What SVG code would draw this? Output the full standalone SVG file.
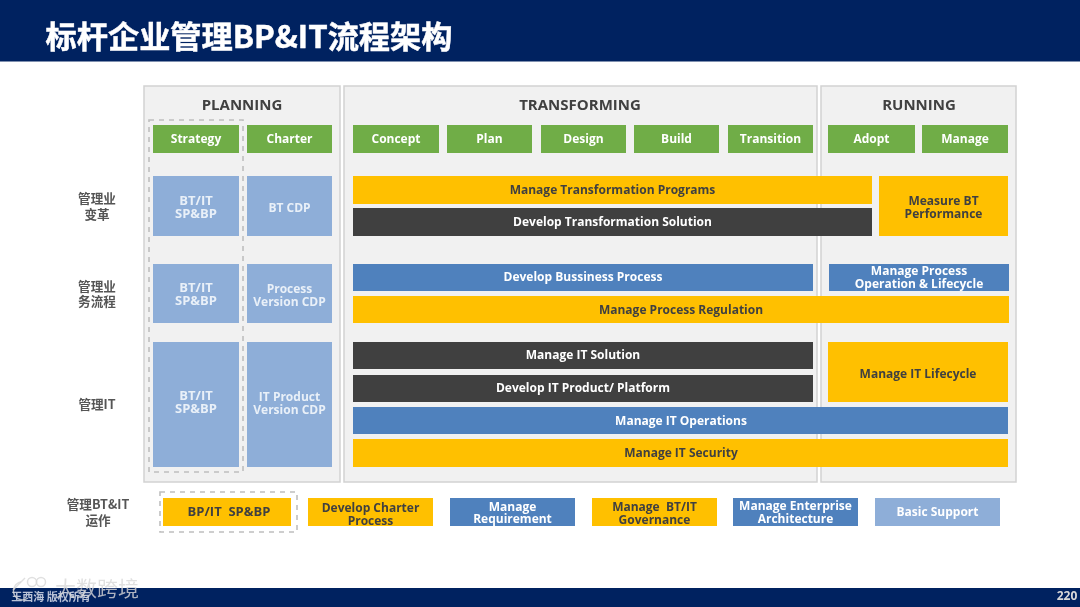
<svg xmlns="http://www.w3.org/2000/svg" width="1080" height="607" viewBox="0 0 1080 607">
<style>
text{font-family:"Open Sans","Noto Sans CJK SC",sans-serif;font-weight:700;text-anchor:middle;white-space:pre}
.panel{fill:#f1f1f1;stroke:#d2d2d2;stroke-width:1.5}
.head{font-size:15px;fill:#404040;font-weight:700}
.g{fill:#70ad47}.lb{fill:#8eaed8}.b{fill:#4f81bd}.y{fill:#ffc000}.d{fill:#404040}
.w{font-size:12px;fill:#fff}.k{font-size:12px;fill:#404040}
.pl{font-size:12px;fill:#e9f0f8}.sp{font-size:13px}
.row{font-size:12.600px;fill:#555;font-family:"Noto Sans CJK SC","Open Sans",sans-serif}
.dash{fill:none;stroke:#bfbfbf;stroke-width:1.6;stroke-dasharray:5 5}
</style>
<defs><filter id="soft" x="0" y="0" width="100%" height="100%"><feGaussianBlur stdDeviation="0.450"/></filter></defs>
<rect width="1080" height="607" fill="#fff"/>
<g filter="url(#soft)">
<g id="header"><rect width="1080" height="61.500" fill="#002060"/>
<text x="249" y="48" style="font-size:31.200px;fill:#fff;stroke:#fff;stroke-width:.5px;font-family:'Noto Sans CJK SC',sans-serif">标杆企业管理BP&amp;IT流程架构</text></g>
<g id="footer"><rect y="588" width="1080" height="19" fill="#002060"/>
<text x="1067" y="600" style="font-size:12px;fill:#d9d9d9">220</text>
<text x="51" y="601" style="font-size:11px;fill:#b8c2d6;font-family:'Noto Sans CJK SC',sans-serif">王西海 版权所有</text>
<text x="97" y="596" style="font-size:21px;fill:#d8d8d8;fill-opacity:.8;font-weight:400;font-family:'Noto Sans CJK SC',sans-serif">大数跨境</text>
<g fill="none" stroke="#d8d8d8" stroke-opacity=".8" stroke-width="1.500"><path d="M21 582A9 9 0 1 0 28 598"/><path d="M13 590L25 578"/><circle cx="32" cy="582" r="4.500"/><circle cx="41" cy="582" r="4.500"/></g></g>

<g id="planning"><rect class="panel" x="144" y="86" width="196" height="396"/><text class="head" x="242" y="110">PLANNING</text></g>
<g id="transforming"><rect class="panel" x="344" y="86" width="473" height="396"/><text class="head" x="580" y="110">TRANSFORMING</text></g>
<g id="running"><rect class="panel" x="821" y="86" width="195" height="396"/><text class="head" x="919" y="110">RUNNING</text></g>

<g id="row-labels">
<text class="row" x="97" y="203">管理业<tspan x="97" dy="16">变革</tspan></text>
<text class="row" x="97" y="291">管理业<tspan x="97" dy="15">务流程</tspan></text>
<text class="row" x="97" y="409">管理IT</text>
<text class="row" x="98" y="509">管理BT&amp;IT<tspan x="98" dy="16">运作</tspan></text>
</g>

<g id="strategy"><rect class="g" x="153" y="125" width="86" height="28"/><text class="w" x="196" y="143">Strategy</text></g>
<g id="charter"><rect class="g" x="247" y="125" width="85" height="28"/><text class="w" x="289.500" y="143">Charter</text></g>
<g id="concept"><rect class="g" x="353" y="125" width="86" height="28"/><text class="w" x="396" y="143">Concept</text></g>
<g id="plan"><rect class="g" x="447" y="125" width="85" height="28"/><text class="w" x="489.500" y="143">Plan</text></g>
<g id="design"><rect class="g" x="541" y="125" width="85" height="28"/><text class="w" x="583.500" y="143">Design</text></g>
<g id="build"><rect class="g" x="634" y="125" width="85" height="28"/><text class="w" x="676.500" y="143">Build</text></g>
<g id="transition"><rect class="g" x="728" y="125" width="85" height="28"/><text class="w" x="770.500" y="143">Transition</text></g>
<g id="adopt"><rect class="g" x="828" y="125" width="87" height="28"/><text class="w" x="871.500" y="143">Adopt</text></g>
<g id="manage"><rect class="g" x="922" y="125" width="86" height="28"/><text class="w" x="965" y="143">Manage</text></g>

<g id="sp1"><rect class="lb" x="153" y="176" width="86" height="60"/><text class="pl sp" x="196" y="205">BT/IT<tspan x="196" dy="13">SP&amp;BP</tspan></text></g>
<g id="cdp1"><rect class="lb" x="247" y="176" width="85" height="60"/><text class="pl" x="289.500" y="212">BT CDP</text></g>
<g id="sp2"><rect class="lb" x="153" y="264" width="86" height="59"/><text class="pl sp" x="196" y="292">BT/IT<tspan x="196" dy="13">SP&amp;BP</tspan></text></g>
<g id="cdp2"><rect class="lb" x="247" y="264" width="85" height="59"/><text class="pl" x="289.500" y="293">Process<tspan x="289.500" dy="13">Version CDP</tspan></text></g>
<g id="sp3"><rect class="lb" x="153" y="342" width="86" height="125"/><text class="pl sp" x="196" y="400">BT/IT<tspan x="196" dy="13">SP&amp;BP</tspan></text></g>
<g id="cdp3"><rect class="lb" x="247" y="342" width="85" height="125"/><text class="pl" x="289.500" y="401">IT Product<tspan x="289.500" dy="13">Version CDP</tspan></text></g>

<g id="mtp"><rect class="y" x="353" y="176" width="519" height="28"/><text class="k" x="612.500" y="194">Manage Transformation Programs</text></g>
<g id="dts"><rect class="d" x="353" y="208" width="519" height="28"/><text class="w" x="612.500" y="226">Develop Transformation Solution</text></g>
<g id="mbp"><rect class="y" x="879" y="176" width="129" height="60"/><text class="k" x="943.500" y="205">Measure BT<tspan x="943.500" dy="13">Performance</tspan></text></g>
<g id="dbp"><rect class="b" x="353" y="264" width="460" height="27"/><text class="w" x="583" y="281">Develop Bussiness Process</text></g>
<g id="mpo"><rect class="b" x="829" y="264" width="180" height="27"/><text class="w" x="919" y="275">Manage Process<tspan x="919" dy="13">Operation &amp; Lifecycle</tspan></text></g>
<g id="mpr"><rect class="y" x="353" y="296" width="656" height="27"/><text class="k" x="681" y="314">Manage Process Regulation</text></g>
<g id="mis"><rect class="d" x="353" y="342" width="460" height="27"/><text class="w" x="583" y="359">Manage IT Solution</text></g>
<g id="dip"><rect class="d" x="353" y="375" width="460" height="27"/><text class="w" x="583" y="392">Develop IT Product/ Platform</text></g>
<g id="mil"><rect class="y" x="828" y="342" width="180" height="60"/><text class="k" x="918" y="378">Manage IT Lifecycle</text></g>
<g id="mio"><rect class="b" x="353" y="407" width="655" height="27"/><text class="w" x="681" y="425">Manage IT Operations</text></g>
<g id="mit"><rect class="y" x="353" y="439" width="655" height="28"/><text class="k" x="681" y="457">Manage IT Security</text></g>

<g id="op1"><rect class="y" x="163" y="498" width="128" height="28"/><text class="k sp" x="229" y="516">BP/IT  SP&amp;BP</text></g>
<g id="op2"><rect class="y" x="308" y="498" width="125" height="28"/><text class="k" x="370.500" y="512">Develop Charter<tspan x="370.500" dy="13">Process</tspan></text></g>
<g id="op3"><rect class="b" x="450" y="498" width="125" height="28"/><text class="w" x="512.500" y="511">Manage<tspan x="512.500" dy="12">Requirement</tspan></text></g>
<g id="op4"><rect class="y" x="592" y="498" width="125" height="28"/><text class="k" x="654.500" y="511">Manage  BT/IT<tspan x="654.500" dy="13">Governance</tspan></text></g>
<g id="op5"><rect class="b" x="733" y="498" width="125" height="28"/><text class="w" x="795.500" y="510">Manage Enterprise<tspan x="795.500" dy="13">Architecture</tspan></text></g>
<g id="op6"><rect class="lb" x="875" y="498" width="125" height="28"/><text class="w" x="937.500" y="516">Basic Support</text></g>

<g id="connectors"><rect class="dash" x="149" y="120" width="94" height="352"/><rect class="dash" x="160" y="492" width="137" height="40"/></g>
</g>
</svg>
